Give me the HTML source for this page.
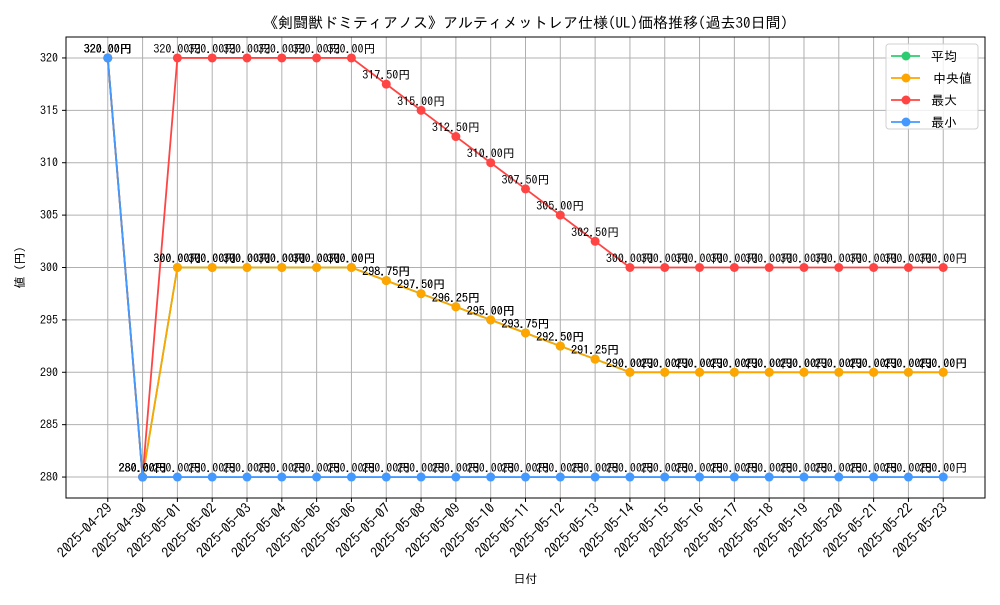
<!DOCTYPE html>
<html><head><meta charset="utf-8"><style>
body{margin:0;background:#fff}
svg text{font-family:"IPAGothic","Liberation Sans","Noto Sans CJK JP",sans-serif}
</style></head><body>
<svg id="c" width="1000" height="600" xmlns="http://www.w3.org/2000/svg"></svg>
<script>
const dates=["2025-04-29","2025-04-30","2025-05-01","2025-05-02","2025-05-03","2025-05-04","2025-05-05","2025-05-06","2025-05-07","2025-05-08","2025-05-09","2025-05-10","2025-05-11","2025-05-12","2025-05-13","2025-05-14","2025-05-15","2025-05-16","2025-05-17","2025-05-18","2025-05-19","2025-05-20","2025-05-21","2025-05-22","2025-05-23"];
const meanVals=[320,280,300,300,300,300,300,300,298.75,297.5,296.25,295,293.75,292.5,291.25,290,290,290,290,290,290,290,290,290,290];
const medianVals=[320,280,300,300,300,300,300,300,298.75,297.5,296.25,295,293.75,292.5,291.25,290,290,290,290,290,290,290,290,290,290];
const maxVals=[320,280,320,320,320,320,320,320,317.5,315,312.5,310,307.5,305,302.5,300,300,300,300,300,300,300,300,300,300];
const minVals=[320,280,280,280,280,280,280,280,280,280,280,280,280,280,280,280,280,280,280,280,280,280,280,280,280];
const yTicks=[280,285,290,295,300,305,310,315,320];
const seriesNames=["平均","中央値","最大","最小"];
const seriesColors=["#2ecc71","#ffa500","#ff4444","#4499ff"];
const seriesData=[meanVals,medianVals,maxVals,minVals];

const L=66,R=985,T=37,B=498,yMin=278,yMax=322;
const n=dates.length, xMargin=(n-1)*0.05;
const xs=i=>L+(i+xMargin)/((n-1)+2*xMargin)*(R-L);
const ys=v=>B-(v-yMin)/(yMax-yMin)*(B-T);
const svg=document.getElementById('c');
const NS="http://www.w3.org/2000/svg";
function mk(tag,attrs,parent){const e=document.createElementNS(NS,tag);for(const k in attrs)e.setAttribute(k,attrs[k]);(parent||svg).appendChild(e);return e;}

dates.forEach((d,i)=>{const g=mk('line',{x1:xs(i),x2:xs(i),y1:T,y2:B,stroke:'#b0b0b0','stroke-width':1});

});
yTicks.forEach(v=>{const g=mk('line',{x1:L,x2:R,y1:ys(v),y2:ys(v),stroke:'#b0b0b0','stroke-width':1});

});

seriesData.forEach((vals,s)=>{
  const pts=vals.map((v,i)=>xs(i)+','+ys(v)).join(' ');
  const pl=mk('polyline',{points:pts,fill:'none',stroke:seriesColors[s],'stroke-width':1.8});
  
  
  vals.forEach((v,i)=>{
    const c=mk('circle',{cx:xs(i),cy:ys(v),r:4.5,fill:seriesColors[s]});
    
    
  });
});
seriesData.forEach((vals,s)=>{
  vals.forEach((v,i)=>{
    const t=mk('text',{x:xs(i),y:ys(v)-5,'text-anchor':'middle','font-size':12,fill:'#000'});
    t.textContent=v.toFixed(2)+'円';
    
    
  });
});

const fr=mk('rect',{x:L,y:T,width:R-L,height:B-T,fill:'none',stroke:'#000','stroke-width':1});



yTicks.forEach(v=>{
  mk('line',{x1:L-4,x2:L,y1:ys(v),y2:ys(v),stroke:'#000'});
  const t=mk('text',{x:L-8,y:ys(v)+4,'text-anchor':'end','font-size':12});
  t.textContent=v;
  
  
});
dates.forEach((d,i)=>{
  mk('line',{x1:xs(i),x2:xs(i),y1:B,y2:B+4,stroke:'#000'});
  const ax=xs(i)+5, ay=B+11;
  const t=mk('text',{x:ax,y:ay,'text-anchor':'end','font-size':14,transform:`rotate(-45 ${ax} ${ay})`});
  t.textContent=d;
  
  
});

let t=mk('text',{x:(L+R)/2,y:28,'text-anchor':'middle','font-size':15});
t.textContent='《剣闘獣ドミティアノス》アルティメットレア仕様(UL)価格推移(過去30日間)';


t=mk('text',{x:(L+R)/2,y:583,'text-anchor':'middle','font-size':12});
t.textContent='日付';


t=mk('text',{x:24,y:(T+B)/2,'text-anchor':'middle','font-size':12,transform:`rotate(-90 24 ${(T+B)/2})`});
t.textContent='値 (円)';



const lg=mk('rect',{x:886,y:44,width:92,height:85,rx:3,fill:'#fff','fill-opacity':0.8,stroke:'#d0d0d0'});


seriesNames.forEach((nm,s)=>{
  const y=56+s*22;
  mk('line',{x1:891,x2:920,y1:y,y2:y,stroke:seriesColors[s],'stroke-width':1.8});
  mk('circle',{cx:906,cy:y,r:4.5,fill:seriesColors[s]});
  const tt=mk('text',{x:s==1?933:931,y:y+5,'font-size':13});
  tt.textContent=nm;
  
  
});
</script>
</body></html>
